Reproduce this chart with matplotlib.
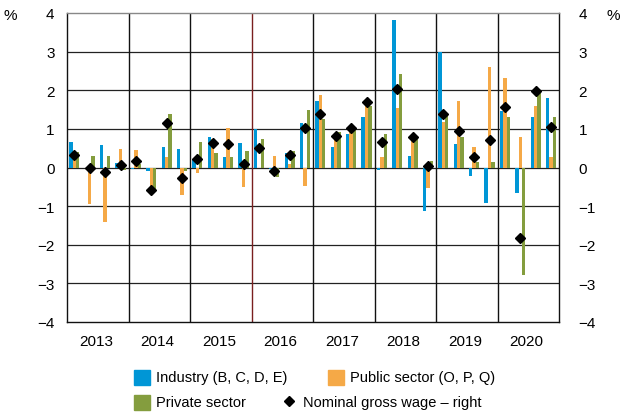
import numpy as np
import matplotlib.pyplot as plt
from matplotlib.lines import Line2D
from matplotlib.patches import Rectangle

plt.rcParams['font.family'] = ['Liberation Sans', 'DejaVu Sans']
plt.rcParams['axes.unicode_minus'] = True

years = ['2013', '2014', '2015', '2016', '2017', '2018', '2019', '2020']

# quarterly values, 2013Q1 .. 2020Q4
industry = [0.67, -0.02, 0.59, 0.12,
            -0.03, -0.09, 0.53, 0.49,
            0.21, 0.79, 0.26, 0.64,
            0.99, -0.03, 0.38, 1.16,
            1.72, 0.52, 0.88, 1.30,
            -0.06, 3.83, 0.29, -1.13,
            2.99, 0.61, -0.22, -0.93,
            1.46, -0.66, 1.32, 1.80]
public = [0.30, -0.95, -1.40, 0.49,
          0.46, -0.57, 0.28, -0.70,
          -0.14, 0.74, 1.01, -0.51,
          -0.01, 0.29, 0.08, -0.48,
          1.87, 0.81, 0.97, 1.65,
          0.26, 1.53, 0.74, -0.53,
          1.19, 1.71, 0.54, 2.59,
          2.32, 0.80, 1.59, 0.28]
private = [0.40, 0.31, 0.30, -0.07,
           0.09, -0.55, 1.39, -0.09,
           0.67, 0.38, 0.26, 0.44,
           0.75, -0.25, 0.44, 1.48,
           1.26, 0.91, 1.01, 1.59,
           0.86, 2.43, 0.76, 0.16,
           1.38, 0.78, 0.13, 0.13,
           1.32, -2.79, 1.93, 1.31]
wage = [0.33, -0.02, -0.11, 0.06,
        0.17, -0.59, 1.16, -0.28,
        0.21, 0.63, 0.60, 0.10,
        0.51, -0.09, 0.32, 1.01,
        1.39, 0.82, 1.03, 1.70,
        0.66, 2.03, 0.79, 0.03,
        1.39, 0.95, 0.26, 0.72,
        1.56, -1.83, 1.98, 1.04]

c_ind = '#0096d6'
c_pub = '#f5a947'
c_pri = '#849d3e'

W, H = 622, 414
fig = plt.figure(figsize=(W / 100, H / 100), dpi=100)
ax = fig.add_axes([67/W, 1-323/H, 492/W, 309/H])

q = np.arange(len(industry))
w = 0.22
ax.bar(q + 0.26, industry, w, color=c_ind, zorder=3)
ax.bar(q + 0.48, public, w, color=c_pub, zorder=3)
ax.bar(q + 0.70, private, w, color=c_pri, zorder=3)

ax.set_xlim(0, 32)
ax.set_ylim(-4, 4)
ax.set_yticks(range(-4, 5))
for yv in range(-3, 4):
    ax.axhline(yv, color='#222222', lw=0.9, zorder=1)
for k in range(1, 8):
    col = '#7a1f1f' if k == 3 else '#111111'
    ax.axvline(4 * k, color=col, lw=1.0, zorder=1)
for s in ax.spines.values():
    s.set_color('#111111')
    s.set_linewidth(1.0)
ax.spines['top'].set_color('#888888')

ax.set_xticks([4 * k + 1.9 for k in range(8)])
ax.set_xticklabels(years, fontsize=11)
ax.tick_params(axis='x', length=0, pad=9)
ax.tick_params(axis='y', length=0, labelsize=11, pad=9)

ax2 = ax.twinx()
ax2.set_ylim(-4, 4)
ax2.set_yticks(range(-4, 5))
ax2.tick_params(axis='y', length=0, labelsize=11, pad=14)
for s in ax2.spines.values():
    s.set_visible(False)
ax2.plot(q + 0.48, wage, linestyle='none', marker='D', markersize=4.8,
         color='black', zorder=4)

fig.text(10/W, 1-16/H, '%', fontsize=11, ha='center', va='center')
fig.text(613/W, 1-16/H, '%', fontsize=11, ha='center', va='center')

# legend, laid out by hand
def sq(x, y, c):
    fig.add_artist(Rectangle((x/W, 1-(y+15)/H), 16/W, 15/H, color=c,
                             transform=fig.transFigure))

sq(134, 371, c_ind)
fig.text(156/W, 1-378/H, 'Industry (B, C, D, E)', fontsize=10.5, va='center')
sq(328, 371, c_pub)
fig.text(350/W, 1-378/H, 'Public sector (O, P, Q)', fontsize=10.5, va='center')
sq(134, 396, c_pri)
fig.text(156/W, 1-403/H, 'Private sector', fontsize=10.5, va='center')
fig.add_artist(Line2D([289/W], [1-402/H], marker='D', markersize=4.8,
                      color='black', linestyle='none', transform=fig.transFigure))
fig.text(303/W, 1-403/H, 'Nominal gross wage \u2013 right', fontsize=10.5, va='center')

fig.savefig('out.png', dpi=100)
